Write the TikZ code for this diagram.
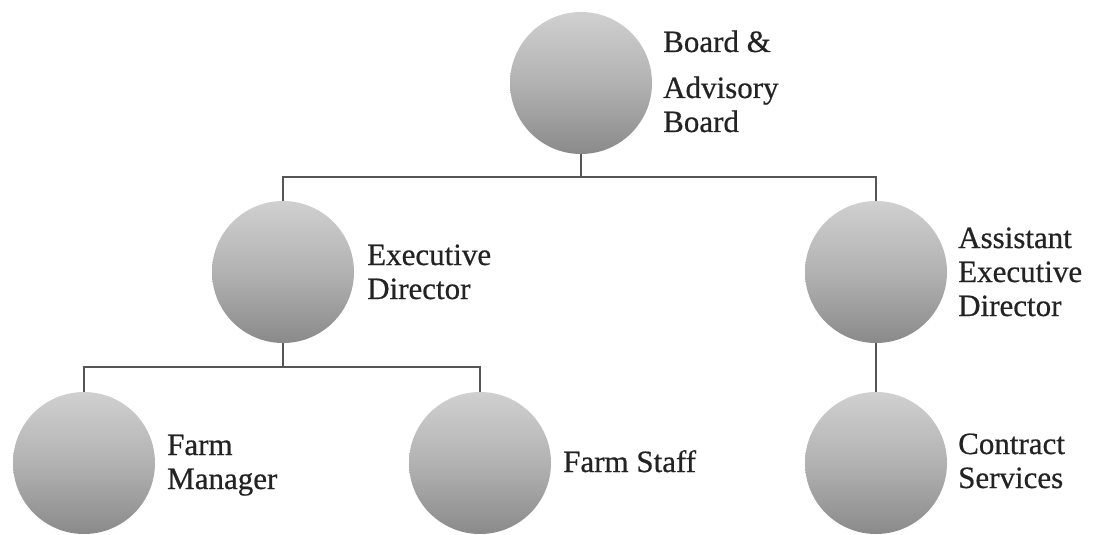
\documentclass[tikz,border=0pt]{standalone}
\usepackage{fontspec}
\setmainfont{Liberation Serif}
\newfontfamily\lblfont[FakeBold=0.6]{Liberation Serif}
\begin{document}
\definecolor{balltop}{RGB}{208,208,208}
\definecolor{ballmid}{RGB}{178,178,178}
\definecolor{ballbot}{RGB}{138,138,138}
\definecolor{linegray}{RGB}{85,85,85}
\definecolor{inkgray}{RGB}{35,35,35}
\begin{tikzpicture}[x=1pt,y=-1pt,
  ball/.style={circle,minimum size=142pt,inner sep=0pt,
    top color=balltop,bottom color=ballbot,middle color=ballmid},
  conn/.style={draw=linegray,line width=1.6pt},
  lbl/.style={anchor=base west,inner sep=0pt,text=inkgray,
    font=\lblfont\fontsize{31}{34}\selectfont}]
  \useasboundingbox (0,0) rectangle (1108,535);
  % positions
  \node[ball] (board) at (581,83) {};
  \node[ball] (exec) at (283,272) {};
  \node[ball] (asst) at (876,272) {};
  \node[ball] (mgr) at (84,463) {};
  \node[ball] (staff) at (480,463) {};
  \node[ball] (contract) at (876,463) {};
  % junctions of the connector buses
  \coordinate (j1) at (581,177);
  \coordinate (j2) at (283,367);
  % connectors
  \draw[conn] (board.south) -- (j1);
  \draw[conn] (exec.north) |- (j1) -| (asst.north);
  \draw[conn] (exec.south) -- (j2);
  \draw[conn] (mgr.north) |- (j2) -| (staff.north);
  \draw[conn] (asst.south) -- (contract.north);
  % labels
  \node[lbl] (tboard) at (663,52) {\begin{tabular}[t]{@{}l@{}}Board \&\\[12pt]Advisory\\Board\end{tabular}};
  \node[lbl] (texec) at (367,265) {\begin{tabular}[t]{@{}l@{}}Executive\\Director\end{tabular}};
  \node[lbl] (tasst) at (958,248) {\begin{tabular}[t]{@{}l@{}}Assistant\\Executive\\Director\end{tabular}};
  \node[lbl] (tmgr) at (167,455) {\begin{tabular}[t]{@{}l@{}}Farm\\Manager\end{tabular}};
  \node[lbl] (tstaff) at (563,472) {Farm Staff};
  \node[lbl] (tcontract) at (958,454) {\begin{tabular}[t]{@{}l@{}}Contract\\Services\end{tabular}};
\end{tikzpicture}
\end{document}
